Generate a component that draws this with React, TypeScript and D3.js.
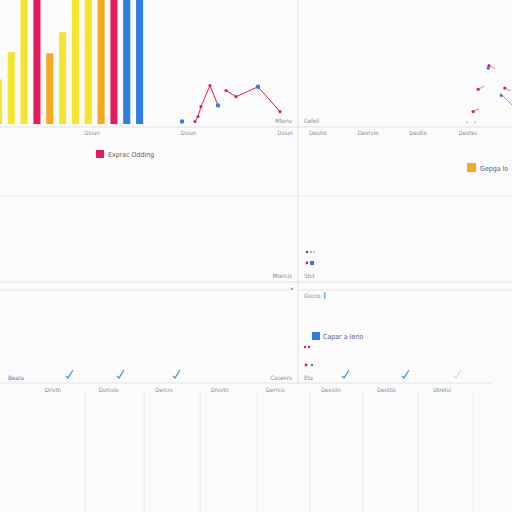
import * as d3 from "d3";

// bars in the top-left panel
const barValues = [36, 58, 100, 100, 57, 74, 100, 100, 100, 100, 100, 100];
const barColors = ["yellow", "yellow", "yellow", "crimson", "orange", "yellow", "yellow", "yellow", "orange", "crimson", "blue", "blue"];

// the broken line next to the bars
const lineA = [
  { x: 15, y: 2 },
  { x: 18, y: 6 },
  { x: 21, y: 14 },
  { x: 30, y: 31 },
  { x: 38, y: 15 },
];
const lineB = [
  { x: 46, y: 27 },
  { x: 56, y: 22 },
  { x: 78, y: 30 },
  { x: 100, y: 10 },
];
const blueDots = [
  { x: 2, y: 2 },
  { x: 38, y: 15 },
  { x: 78, y: 30 },
];

// scatter in the top-right panel
const rightRed = [
  { x: 68, y: 47 },
  { x: 53, y: 28 },
  { x: 90, y: 29 },
  { x: 46, y: 10 },
];
const rightBlue = [
  { x: 67, y: 45 },
  { x: 85, y: 23 },
];

// check marks in the lower row
const checkX = [70, 121, 177, 346, 406, 458];

const topTicks = ["Dsiun", "Dsiun", "Dsiun"];
const rightTicks = ["Deutio", "Dexrsio", "Deutio", "Dextes"];
const bottomTicks = ["Drivtn", "Dsrcsio", "Dercrs", "Drsvtn", "Derrsis", "Dexsiin", "Desttis", "Dtretsi"];
const colEdges = [85, 144, 200, 257, 310, 363, 418, 473];

const C: Record<string, string> = {
  yellow: "#f2e52c",
  crimson: "#e61b5b",
  orange: "#f2aa22",
  blue: "#2f7fe0",
};
const GRID = "#e2e2e2";
const TXT = "#868b94";
const FONT = "'DejaVu Sans Condensed', 'DejaVu Sans', sans-serif";

export default function App() {
  const W = 512;
  const H = 512;

  const xBar = d3
    .scaleBand<number>()
    .domain(d3.range(barValues.length))
    .range([-8, 146])
    .paddingInner(0.45)
    .paddingOuter(0.225);
  const yTop = d3.scaleLinear().domain([0, 100]).range([124, 0]);

  const xLine = d3.scaleLinear().domain([0, 100]).range([180, 280]);
  const line = d3
    .line<{ x: number; y: number }>()
    .x((d) => xLine(d.x))
    .y((d) => yTop(d.y));

  const xRight = d3.scaleLinear().domain([0, 100]).range([440, 512]);

  const xTopTicks = d3.scalePoint<number>().domain([0, 1, 2]).range([92, 285]);
  const xRightTicks = d3.scaleLinear().domain([0, 3]).range([318, 468]);
  const xBottom = d3.scalePoint<number>().domain(d3.range(bottomTicks.length)).range([53, 442]);

  return (
    <svg
      width={W}
      height={H}
      style={{ position: "absolute", left: 0, top: 0, background: "#fbfbfb" }}
      fontFamily={FONT}
    >
      <rect width={W} height={H} fill="#fbfbfb" />

      {/* grid frame */}
      <g stroke={GRID} strokeWidth={1}>
        <line x1={298} x2={298} y1={0} y2={383} />
        <line x1={0} x2={512} y1={127} y2={127} />
        <line x1={0} x2={512} y1={196} y2={196} strokeOpacity={0.7} />
        <line x1={0} x2={512} y1={282} y2={282} />
        <line x1={0} x2={290} y1={290} y2={290} />
        <line x1={300} x2={512} y1={290} y2={290} />
        <line x1={0} x2={493} y1={383} y2={383} />
        {colEdges.map((x, i) => (
          <line key={i} x1={x} x2={x} y1={390} y2={512} strokeOpacity={0.6} />
        ))}
      </g>

      {/* bars */}
      {barValues.map((v, i) => (
        <rect
          key={i}
          x={xBar(i)}
          y={Math.max(yTop(v), -2)}
          width={xBar.bandwidth()}
          height={yTop(0) - Math.max(yTop(v), -2)}
          fill={C[barColors[i]]}
        />
      ))}

      {/* line series */}
      <path d={line(lineA) ?? ""} fill="none" stroke={C.crimson} strokeWidth={1} />
      <path d={line(lineB) ?? ""} fill="none" stroke={C.crimson} strokeWidth={1} />
      {[...lineA, ...lineB].map((d, i) => (
        <circle key={i} cx={xLine(d.x)} cy={yTop(d.y)} r={1.6} fill={C.crimson} />
      ))}
      {blueDots.map((d, i) => (
        <circle key={i} cx={xLine(d.x)} cy={yTop(d.y)} r={2.2} fill={C.blue} />
      ))}

      {/* top-right scatter */}
      {rightRed.map((d, i) => (
        <g key={i}>
          <line
            x1={xRight(d.x)}
            y1={yTop(d.y)}
            x2={xRight(d.x) + 6}
            y2={yTop(d.y) + (i % 2 ? -3 : 3)}
            stroke={C.crimson}
            strokeOpacity={0.6}
          />
          <circle cx={xRight(d.x)} cy={yTop(d.y)} r={1.6} fill={C.crimson} />
        </g>
      ))}
      {rightBlue.map((d, i) => (
        <circle key={i} cx={xRight(d.x)} cy={yTop(d.y)} r={1.6} fill={C.blue} />
      ))}
      <line x1={500} y1={93} x2={512} y2={105} stroke={C.crimson} strokeOpacity={0.6} />

      {/* tick labels */}
      <g fontSize={6} fill={TXT} textAnchor="middle">
        {topTicks.map((t, i) => (
          <text key={i} x={xTopTicks(i)} y={135}>{t}</text>
        ))}
        <text x={292} y={123} textAnchor="end">Mtenu</text>
        <text x={304} y={123} textAnchor="start">Cefeli</text>
        {rightTicks.map((t, i) => (
          <text key={i} x={xRightTicks(i)} y={135}>{t}</text>
        ))}
        <text x={292} y={278} textAnchor="end">Mtersis</text>
        <text x={304} y={278} textAnchor="start">Stct</text>
        <text x={304} y={298} textAnchor="start">Gscco</text>
        <text x={292} y={380} textAnchor="end">Casenrs</text>
        <text x={304} y={380} textAnchor="start">Eta</text>
        <text x={8} y={380} textAnchor="start" fill={C.blue}>Beara</text>
        {bottomTicks.map((t, i) => (
          <text key={i} x={xBottom(i)} y={392}>{t}</text>
        ))}
      </g>
      <rect x={324} y={292} width={1.5} height={7} fill={C.blue} opacity={0.6} />
      <circle cx={292} cy={289} r={1.3} fill="#aaa" />

      {/* legends */}
      <rect x={96} y={150} width={8} height={8} fill={C.crimson} />
      <text x={108} y={157} fontSize={7} fill="#5a6270">Exprac Odding</text>
      <rect x={467} y={163} width={9} height={9} fill={C.orange} />
      <text x={480} y={171} fontSize={7} fill="#5a6270">Gepga lo</text>
      <rect x={312} y={332} width={8} height={8} fill={C.blue} />
      <text x={323} y={339} fontSize={7} fill="#5a6270">Capar a lerio</text>

      {/* small markers in the right column */}
      <circle cx={307} cy={252} r={1.2} fill="#456" />
      <circle cx={311} cy={252} r={0.9} fill="#789" />
      <circle cx={314} cy={252} r={0.9} fill="#9ab" />
      <circle cx={307} cy={263} r={1.4} fill={C.crimson} />
      <rect x={310} y={261} width={4} height={4} fill={C.blue} />
      <circle cx={305} cy={347} r={1.2} fill={C.crimson} />
      <circle cx={309} cy={347} r={1.2} fill={C.crimson} />
      <circle cx={306} cy={365} r={1.4} fill={C.crimson} />
      <circle cx={312} cy={365} r={1.2} fill={C.blue} />
      <circle cx={467} cy={122} r={0.8} fill={C.crimson} opacity={0.6} />
      <circle cx={475} cy={122} r={0.8} fill={C.crimson} opacity={0.6} />

      {/* check marks */}
      {checkX.map((x, i) => (
        <path
          key={i}
          d={`M${x - 4},${376} L${x - 2},${378} L${x + 3},${370}`}
          fill="none"
          stroke={C.blue}
          strokeWidth={1.2}
          strokeOpacity={i === 5 ? 0.25 : 0.9}
        />
      ))}
    </svg>
  );
}
